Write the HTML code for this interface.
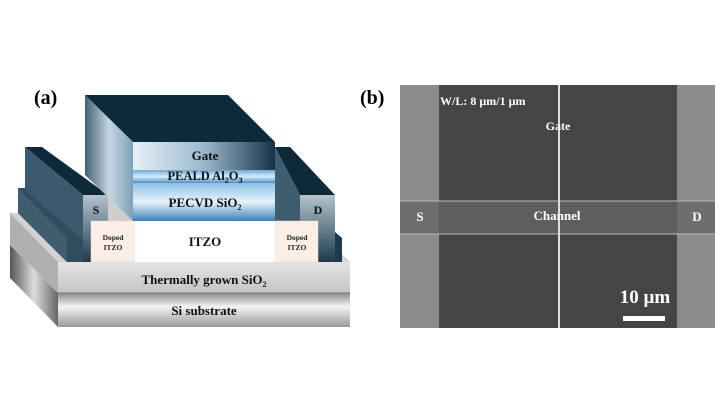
<!DOCTYPE html>
<html><head><meta charset="utf-8"><style>
html,body{margin:0;padding:0;background:#fff;}
svg{display:block;font-family:"Liberation Serif",serif;font-weight:bold;}
</style></head><body>
<svg width="720" height="405" viewBox="0 0 720 405" xmlns="http://www.w3.org/2000/svg">
<defs>
<linearGradient id="sub" x1="0" y1="0" x2="0" y2="1"><stop offset="0" stop-color="#8a8a8a"/><stop offset="0.4" stop-color="#f4f4f4"/><stop offset="1" stop-color="#9a9a9a"/></linearGradient>
<linearGradient id="subL" x1="0" y1="0" x2="1" y2="0"><stop offset="0" stop-color="#555"/><stop offset="0.5" stop-color="#ddd"/><stop offset="1" stop-color="#666"/></linearGradient>
<linearGradient id="ox" x1="0" y1="0" x2="0" y2="1"><stop offset="0" stop-color="#e4e4e4"/><stop offset="1" stop-color="#c4c4c4"/></linearGradient>
<linearGradient id="gate" x1="0" y1="0" x2="1" y2="0"><stop offset="0" stop-color="#e6f0f7"/><stop offset="0.5" stop-color="#9cb8cc"/><stop offset="1" stop-color="#163447"/></linearGradient>
<linearGradient id="peald" x1="0" y1="0" x2="0" y2="1"><stop offset="0" stop-color="#6aa8d8"/><stop offset="0.5" stop-color="#d8ecf8"/><stop offset="1" stop-color="#4e90c8"/></linearGradient>
<linearGradient id="pecvd" x1="0" y1="0" x2="0" y2="1"><stop offset="0" stop-color="#8fc0e4"/><stop offset="0.5" stop-color="#e6f3fb"/><stop offset="1" stop-color="#3d7fbb"/></linearGradient>
<linearGradient id="gL" x1="0" y1="0" x2="1" y2="0"><stop offset="0" stop-color="#3f6075"/><stop offset="0.5" stop-color="#c6d6e2"/><stop offset="1" stop-color="#7fa0b8"/></linearGradient>
<linearGradient id="el" x1="0" y1="0" x2="0" y2="1"><stop offset="0" stop-color="#b4c4ce"/><stop offset="1" stop-color="#1d3a4c"/></linearGradient>
</defs>
<text x="34" y="104" font-size="20">(a)</text>
<polygon points="10,245 58,293 58,327 10,278" fill="url(#subL)"/>
<rect x="58" y="293" width="292" height="34" fill="url(#sub)"/>
<polygon points="10,213 300,213 350,262 58,262" fill="#d2d2d2"/>
<polygon points="10,213 58,262 58,293 10,245" fill="#b0b0b0"/>
<rect x="58" y="262" width="292" height="31" fill="url(#ox)"/>
<line x1="58" y1="293" x2="350" y2="293" stroke="#777" stroke-width="1"/>
<!-- gray oxide gaps -->
<polygon points="100,190 150,190 150,221 108,221" fill="#cfcfcf"/>
<polygon points="260,190 305,190 300,221 270,221" fill="#cfcfcf"/>
<!-- S electrode -->
<polygon points="18,188 25,188 91,240 91,262 67,262 18,213" fill="#2f4d5e"/>
<polygon points="18,188 67,238 67,262 18,213" fill="#3e5e70"/>
<polygon points="25,147 42,147 108,195 83,195" fill="#0c2a38"/>
<polygon points="25,147 83,195 83,240 25,190" fill="#3a5b6d"/>
<rect x="83" y="195" width="25" height="67" fill="url(#el)"/>
<text x="96" y="214" font-size="12" text-anchor="middle" fill="#111">S</text>
<!-- D electrode -->
<polygon points="275,147 290,147 335,195 300,195" fill="#0c2a38"/>
<polygon points="275,147 300,195 300,262 275,230" fill="#3e5e70"/>
<rect x="300" y="195" width="35" height="67" fill="url(#el)"/>
<polygon points="335,232 342,238 342,262 335,262" fill="#1d3a4c"/>
<text x="318" y="214" font-size="12" text-anchor="middle" fill="#111">D</text>
<rect x="91" y="221" width="44" height="41" fill="#fbeee6" stroke="#f0d8cc" stroke-width="0.5"/>
<rect x="275" y="221" width="43" height="41" fill="#fbeee6" stroke="#f0d8cc" stroke-width="0.5"/>
<rect x="135" y="221" width="140" height="41" fill="#fff"/>
<text x="113" y="240" font-size="7.5" text-anchor="middle" fill="#222">Doped</text>
<text x="113" y="250" font-size="7.5" text-anchor="middle" fill="#222">ITZO</text>
<text x="297" y="240" font-size="7.5" text-anchor="middle" fill="#222">Doped</text>
<text x="297" y="250" font-size="7.5" text-anchor="middle" fill="#222">ITZO</text>
<text x="205" y="246" font-size="13" text-anchor="middle" fill="#111">ITZO</text>
<polygon points="85,95 228,95 275,142 133,142" fill="#0c2a38"/>
<polygon points="85,95 133,142 133,221 85,175" fill="url(#gL)"/>
<rect x="133" y="142" width="142" height="28" fill="url(#gate)"/>
<rect x="133" y="170" width="142" height="13" fill="url(#peald)"/>
<rect x="133" y="183" width="142" height="38" fill="url(#pecvd)"/>
<text x="205" y="160" font-size="13" text-anchor="middle" fill="#111">Gate</text>
<text x="205" y="180" font-size="12.5" text-anchor="middle" fill="#111">PEALD Al<tspan font-size="8" dy="3">2</tspan><tspan dy="-3">O</tspan><tspan font-size="8" dy="3">3</tspan></text>
<text x="205" y="207" font-size="13" text-anchor="middle" fill="#111">PECVD SiO<tspan font-size="8" dy="3">2</tspan></text>
<text x="204" y="284" font-size="13" text-anchor="middle" fill="#111">Thermally grown SiO<tspan font-size="8" dy="3">2</tspan></text>
<text x="204" y="315" font-size="13" text-anchor="middle" fill="#111">Si substrate</text>
<text x="360" y="104" font-size="20">(b)</text>
<rect x="400" y="85" width="315" height="243" fill="#8c8c8c"/>
<rect x="439" y="85" width="238" height="243" fill="#454545"/>
<rect x="400" y="201" width="315" height="33" fill="#6e6e6e"/>
<rect x="439" y="201" width="238" height="33" fill="#5e5e5e"/>
<line x1="400" y1="201" x2="715" y2="201" stroke="#bbb" stroke-width="1"/>
<line x1="400" y1="234" x2="715" y2="234" stroke="#bbb" stroke-width="1"/>
<line x1="559" y1="85" x2="559" y2="328" stroke="#ddd" stroke-width="2"/>
<g fill="#fff" font-size="12">
<text x="440" y="105">W/L: 8 µm/1 µm</text>
<text x="558" y="130" text-anchor="middle">Gate</text>
<text x="557" y="220" text-anchor="middle" font-size="13">Channel</text>
<text x="420" y="221" text-anchor="middle" font-size="13">S</text>
<text x="697" y="221" text-anchor="middle" font-size="13">D</text>
<text x="645" y="303" text-anchor="middle" font-size="19">10 µm</text>
</g>
<rect x="623" y="316" width="42" height="5" fill="#fff"/>
</svg>
</body></html>
